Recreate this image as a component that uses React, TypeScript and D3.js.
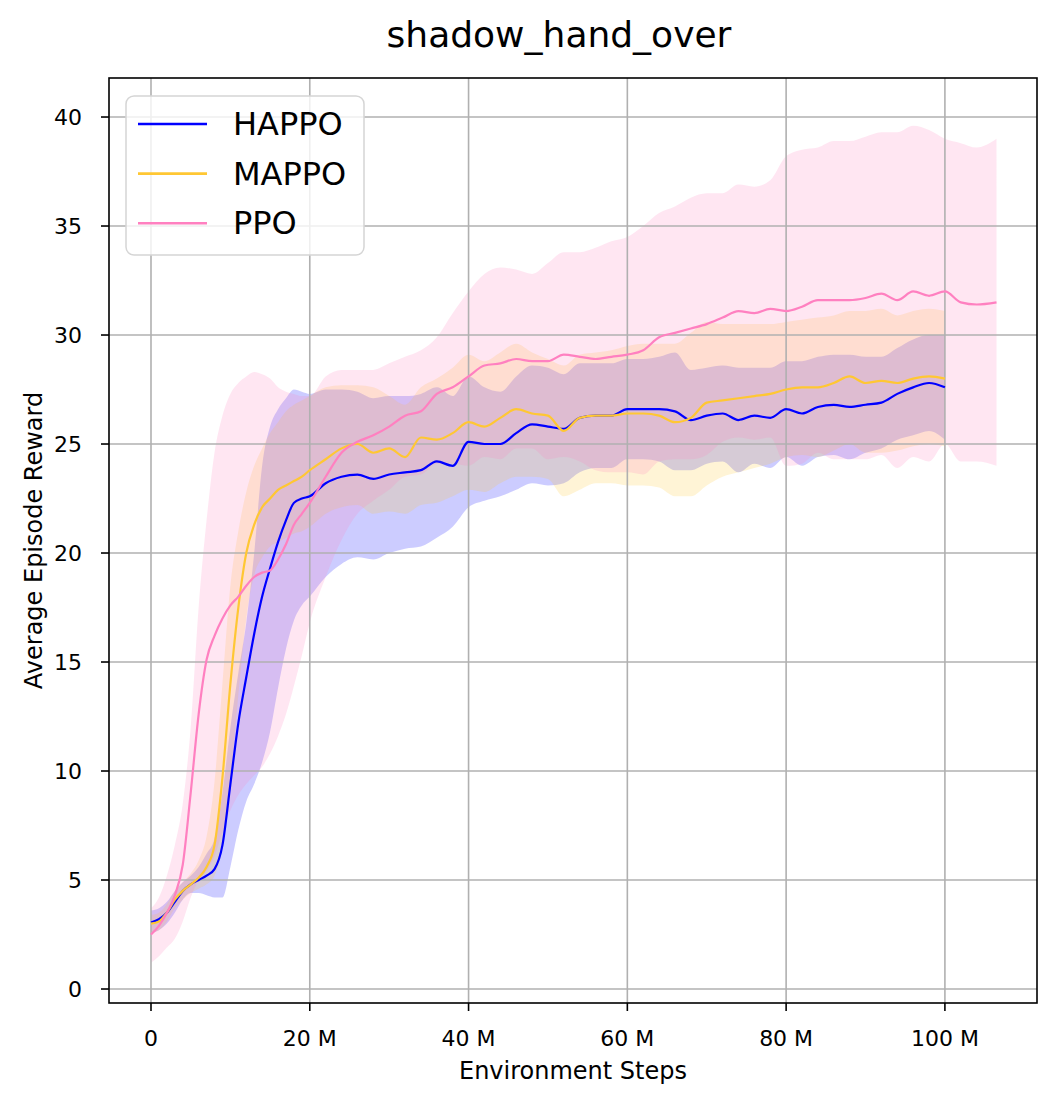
import { useEffect } from 'react';
import * as d3 from 'd3';

// environment steps (millions)
const steps = [
  0, 1, 2, 3, 4, 5, 6, 7, 8, 9, 10, 11, 12, 13, 14, 15, 16, 17, 18, 19, 20,
  22, 24, 26, 28, 30, 32, 34, 36, 38, 40,
  42, 44, 46, 48, 50, 52, 54, 56, 58, 60,
  62, 64, 66, 68, 70, 72, 74, 76, 78, 80,
  82, 84, 86, 88, 90, 92, 94, 96, 98, 100,
  102, 104, 106.5,
];

const happoMean = [
  3.05, 3.2, 3.5, 4.0, 4.5, 4.8, 5.0, 5.2, 5.5, 6.6, 9.4, 12.2, 14.3, 16.3, 18.0, 19.3, 20.5, 21.5, 22.3, 22.5, 22.6,
  23.2, 23.5, 23.6, 23.4, 23.6, 23.7, 23.8, 24.2, 24.0, 25.1,
  25.0, 25.0, 25.5, 25.9, 25.8, 25.7, 26.2, 26.3, 26.3, 26.6,
  26.6, 26.6, 26.5, 26.1, 26.3, 26.4, 26.1, 26.3, 26.2, 26.6,
  26.4, 26.7, 26.8, 26.7, 26.8, 26.9, 27.3, 27.6, 27.8, 27.6,
];
const happoUpper = [
  3.6, 3.7, 4.0, 4.5, 4.9, 5.2, 5.6, 6.2, 6.9, 9.0, 12.0, 14.5, 16.8, 20.0, 24.0, 25.8, 26.6, 27.1, 27.5, 27.4, 27.3,
  27.5, 27.5, 27.4, 27.1, 27.2, 27.2, 27.3, 27.6, 27.2, 28.1,
  27.6, 27.4, 28.1, 28.6, 28.5, 28.2, 28.7, 28.7, 28.7, 28.9,
  28.9, 29.0, 29.2, 28.4, 28.5, 28.6, 28.5, 28.5, 28.5, 28.8,
  28.8, 29.0, 29.1, 29.1, 29.0, 29.0, 29.4, 29.8, 30.0, 30.0,
];
const happoLower = [
  2.6, 2.7, 3.0, 3.5, 4.1, 4.4, 4.4, 4.3, 4.2, 4.2, 5.6, 7.3, 8.6, 9.4, 10.4, 11.8, 13.8, 15.6, 16.9, 17.6, 18.0,
  18.9, 19.5, 19.8, 19.7, 20.0, 20.2, 20.3, 20.7, 21.2, 22.1,
  22.4, 22.6, 22.9, 23.2, 23.1, 23.2, 23.7, 23.9, 23.9, 24.3,
  24.3, 24.2, 23.8, 23.8, 24.1, 24.2, 23.7, 24.1, 23.9, 24.4,
  24.0, 24.4, 24.5, 24.3, 24.6, 24.8, 25.2, 25.4, 25.6, 25.2,
];

const mappoMean = [
  3.0, 3.1, 3.5, 4.1, 4.5, 4.8, 5.1, 5.6, 6.6, 9.7, 14.0, 17.5, 20.0, 21.3, 22.1, 22.5, 22.9, 23.1, 23.3, 23.5, 23.8,
  24.3, 24.8, 25.0, 24.6, 24.8, 24.4, 25.3, 25.2, 25.5, 26.0,
  25.8, 26.2, 26.6, 26.4, 26.3, 25.6, 26.2, 26.3, 26.3, 26.4,
  26.4, 26.3, 26.0, 26.2, 26.9, 27.0, 27.1, 27.2, 27.3, 27.5,
  27.6, 27.6, 27.8, 28.1, 27.8, 27.9, 27.8, 28.0, 28.1, 28.0,
];
const mappoUpper = [
  3.4, 3.5, 3.9, 4.5, 4.9, 5.3, 5.9, 7.0, 9.5, 14.0, 18.5, 21.0, 22.8, 24.0, 24.8, 25.5, 26.0, 26.5, 26.8, 27.0, 27.2,
  27.6, 27.7, 27.7, 27.6, 27.2, 26.8, 27.6, 28.0, 28.5, 29.1,
  28.8, 29.2, 29.6, 29.2, 28.9, 28.6, 29.1, 29.2, 29.3, 29.5,
  29.6, 29.6, 29.6, 30.1, 30.6, 30.5, 30.5, 30.5, 30.5, 30.6,
  30.7, 30.8, 30.9, 31.1, 31.1, 31.2, 30.9, 31.1, 31.2, 31.1,
];
const mappoLower = [
  2.6, 2.7, 3.1, 3.7, 4.1, 4.4, 4.6, 4.8, 5.2, 6.5, 9.5, 13.5, 17.0, 19.0, 19.8, 20.3, 20.5, 20.7, 20.9, 21.0, 21.2,
  21.8, 22.1, 22.2, 21.8, 21.9, 21.8, 22.2, 22.3, 22.6, 22.9,
  22.8, 23.2, 23.5, 23.5, 23.4, 22.6, 22.9, 23.2, 23.2, 23.1,
  23.1, 23.0, 22.6, 22.6, 23.1, 23.5, 23.7, 23.9, 24.1, 24.4,
  24.5, 24.4, 24.7, 25.0, 24.6, 24.6, 24.7, 24.9, 25.0, 24.9,
];

const ppoMean = [
  2.5, 2.9, 3.5, 4.3, 5.7, 9.0, 12.6, 15.1, 16.2, 17.0, 17.6, 18.0, 18.5, 18.9, 19.1, 19.2, 19.7, 20.4, 21.3, 21.8, 22.3,
  23.5, 24.6, 25.1, 25.4, 25.8, 26.3, 26.5, 27.3, 27.6, 28.1,
  28.6, 28.7, 28.9, 28.8, 28.8, 29.1, 29.0, 28.9, 29.0, 29.1,
  29.3, 29.9, 30.1, 30.3, 30.5, 30.8, 31.1, 31.0, 31.2, 31.1,
  31.3, 31.6, 31.6, 31.6, 31.7, 31.9, 31.6, 32.0, 31.8, 32.0,
  31.5, 31.4, 31.5,
];
const ppoUpper = [
  3.7, 4.2, 5.2, 6.6, 8.5, 12.0, 17.5, 21.5, 24.6, 26.3, 27.3, 27.8, 28.1, 28.3, 28.2, 28.0, 27.6, 27.4, 27.3, 27.2, 27.2,
  28.1, 28.4, 28.4, 28.4, 28.7, 29.0, 29.3, 29.9, 31.0, 32.0,
  32.8, 33.1, 33.0, 32.8, 33.3, 33.8, 33.8, 34.0, 34.3, 34.5,
  35.0, 35.6, 35.9, 36.3, 36.5, 36.5, 36.9, 36.8, 37.1, 38.2,
  38.5, 38.6, 38.9, 38.9, 39.1, 39.3, 39.3, 39.6, 39.4, 39.0,
  38.8, 38.6, 39.0,
];
const ppoLower = [
  1.2, 1.5, 1.9, 2.3, 3.1, 4.2, 5.0, 5.4, 6.1, 7.2, 8.2, 8.9, 9.4, 9.8, 10.2, 10.8, 11.6, 12.6, 13.9, 15.3, 16.8,
  18.9, 20.6, 21.8, 22.4, 22.9, 23.5, 23.6, 24.1, 24.1, 24.0,
  24.4, 24.3, 24.8, 24.8, 24.3, 24.4, 24.2, 23.8, 23.7, 23.7,
  23.6, 24.2, 24.3, 24.3, 24.5, 25.1, 25.3, 25.2, 25.3, 24.0,
  24.1, 24.6, 24.3, 24.3, 24.3, 24.5, 23.9, 24.4, 24.2, 25.0,
  24.2, 24.2, 24.0,
];

const xTicks = [0, 20, 40, 60, 80, 100];
const xTickLabels = ['0', '20 M', '40 M', '60 M', '80 M', '100 M'];
const yTicks = [0, 5, 10, 15, 20, 25, 30, 35, 40];

const series = [
  { name: 'HAPPO', color: '#0000ff', mean: happoMean, lower: happoLower, upper: happoUpper },
  { name: 'MAPPO', color: '#ffc733', mean: mappoMean, lower: mappoLower, upper: mappoUpper },
  { name: 'PPO', color: '#ff80c0', mean: ppoMean, lower: ppoLower, upper: ppoUpper },
];

const width = 1058;
const height = 1104;
const box = { left: 109, right: 1037, top: 78, bottom: 1003 };
const font = 'DejaVu Sans, sans-serif';

export default function App() {
  useEffect(() => {
    document.body.style.margin = '0';
  }, []);

  const x = d3.scaleLinear().domain([-5.29, 111.6]).range([box.left, box.right]);
  const y = d3.scaleLinear().domain([-0.642, 41.79]).range([box.bottom, box.top]);

  const lineFor = (s: typeof series[number]) =>
    d3
      .line<number>()
      .x((_, i) => x(steps[i]))
      .y((d) => y(d))
      .curve(d3.curveMonotoneX)(s.mean) as string;

  const areaFor = (s: typeof series[number]) =>
    d3
      .area<number>()
      .x((i) => x(steps[i]))
      .y0((i) => y(s.lower[i]))
      .y1((i) => y(s.upper[i]))
      .curve(d3.curveMonotoneX)(d3.range(s.mean.length)) as string;

  return (
    <svg width={width} height={height} style={{ display: 'block', background: '#fff' }} fontFamily={font}>
      <defs>
        <clipPath id="plot-clip">
          <rect x={box.left} y={box.top} width={box.right - box.left} height={box.bottom - box.top} />
        </clipPath>
      </defs>

      <text x={559} y={47} fontSize={36} textAnchor="middle" fill="#000">
        shadow_hand_over
      </text>

      <g clipPath="url(#plot-clip)">
        {/* bands */}
        {series.map((s) => (
          <path key={s.name + '-band'} d={areaFor(s)} fill={s.color} fillOpacity={0.2} stroke="none" />
        ))}

        {/* grid */}
        {xTicks.map((t) => (
          <line key={'gx' + t} x1={x(t)} x2={x(t)} y1={box.top} y2={box.bottom} stroke="#b0b0b0" strokeWidth={1.6} />
        ))}
        {yTicks.map((t) => (
          <line key={'gy' + t} x1={box.left} x2={box.right} y1={y(t)} y2={y(t)} stroke="#b0b0b0" strokeWidth={1.6} />
        ))}

        {/* mean lines */}
        {series.map((s) => (
          <path key={s.name + '-line'} d={lineFor(s)} fill="none" stroke={s.color} strokeWidth={2.2} />
        ))}
      </g>

      {/* frame */}
      <rect
        x={box.left}
        y={box.top}
        width={box.right - box.left}
        height={box.bottom - box.top}
        fill="none"
        stroke="#000"
        strokeWidth={1.6}
      />

      {/* x axis */}
      {xTicks.map((t, i) => (
        <g key={'xt' + t}>
          <line x1={x(t)} x2={x(t)} y1={box.bottom} y2={box.bottom + 8} stroke="#000" strokeWidth={1.6} />
          <text x={x(t)} y={1046} fontSize={22} textAnchor="middle" fill="#000">
            {xTickLabels[i]}
          </text>
        </g>
      ))}
      <text x={573} y={1079} fontSize={24} textAnchor="middle" fill="#000">
        Environment Steps
      </text>

      {/* y axis */}
      {yTicks.map((t) => (
        <g key={'yt' + t}>
          <line x1={box.left - 8} x2={box.left} y1={y(t)} y2={y(t)} stroke="#000" strokeWidth={1.6} />
          <text x={82} y={y(t)} fontSize={22} textAnchor="end" dominantBaseline="central" fill="#000">
            {t}
          </text>
        </g>
      ))}
      <text
        transform={`translate(42, ${(box.top + box.bottom) / 2}) rotate(-90)`}
        fontSize={24}
        textAnchor="middle"
        fill="#000"
      >
        Average Episode Reward
      </text>

      {/* legend */}
      <rect x={126} y={96} width={238} height={159} rx={8} fill="#fff" fillOpacity={0.8} stroke="#d5d5d5" strokeWidth={1.5} />
      {series.map((s, i) => (
        <g key={s.name + '-legend'}>
          <line x1={138} x2={207} y1={124 + i * 49.6} y2={124 + i * 49.6} stroke={s.color} strokeWidth={2.6} />
          <text x={233} y={124 + i * 49.6} fontSize={32} dominantBaseline="central" fill="#000">
            {s.name}
          </text>
        </g>
      ))}
    </svg>
  );
}
